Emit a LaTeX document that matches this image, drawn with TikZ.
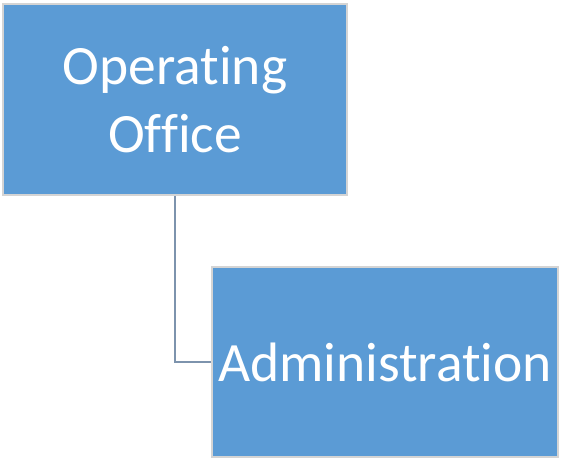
\documentclass[tikz,border=0pt]{standalone}
\usepackage{fontspec}
\setmainfont[Ligatures=NoCommon]{Carlito}
\definecolor{boxblue}{HTML}{5B9BD5}
\definecolor{boxedge}{HTML}{D4D4D4}
\definecolor{linkcol}{HTML}{7D93AD}
\begin{document}
\begin{tikzpicture}[x=1pt,y=-1pt,
  unitbox/.style={draw=boxedge,line width=1.5pt,fill=boxblue,text=white,
    font=\fontsize{55.5}{68}\selectfont,align=center,inner sep=0pt},
  link/.style={draw=linkcol,line width=2pt}]
\useasboundingbox (0,0) rectangle (562,460);
\node[unitbox,minimum width=344pt,minimum height=191pt] (op) at (175,99.5) {Operating\\Office};
\node[unitbox,minimum width=346pt,minimum height=190pt] (ad) at (385,362) {Administration};
\draw[link] (op.south) ++(-0.5,0) |- (ad.west);
\end{tikzpicture}
\end{document}
